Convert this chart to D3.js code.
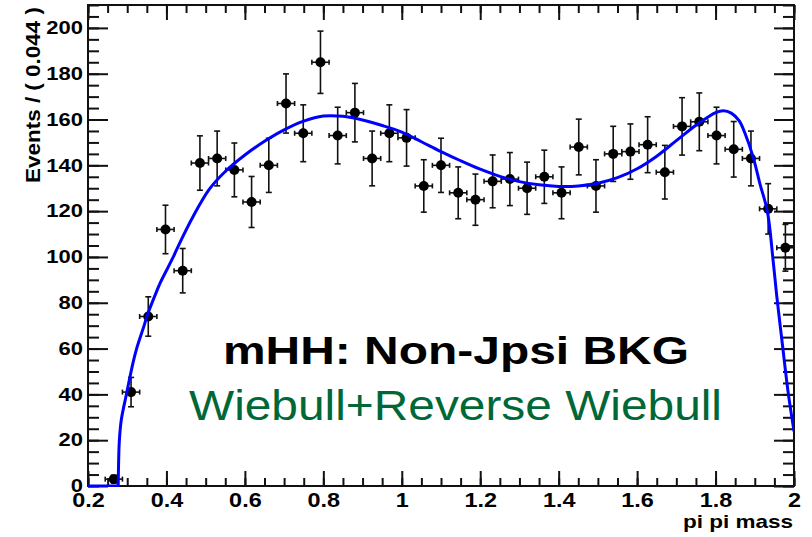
<!DOCTYPE html>
<html>
<head>
<meta charset="utf-8">
<script src="https://cdn.jsdelivr.net/npm/d3@7"></script>
<style>
  html, body { margin: 0; padding: 0; background: #fff; }
  svg { display: block; font-family: "Liberation Sans", Arial, Helvetica, sans-serif; }
</style>
</head>
<body>
<svg id="chart" width="812" height="537"></svg>
<script>
// pi pi invariant mass histogram: 41 bins over [0.2, 2.0]
const massRange = [0.2, 2.0];
const binCounts = [0, 3, 41, 74, 112, 94, 141, 143, 138, 124,
                   140, 167, 154, 185, 153, 163, 143, 154, 152, 131,
                   140, 128, 125, 133, 134, 130, 135, 128, 148, 131,
                   145, 146, 149, 137, 157, 159, 153, 147, 143, 121,
                   104];

// Fitted Weibull + reverse Weibull shape, sampled along the mass axis
const fitMass = [0.200, 0.277, 0.278, 0.280, 0.285, 0.2985, 0.315, 0.324, 0.343, 0.351,
                 0.375, 0.385, 0.4175, 0.428, 0.469, 0.509, 0.55, 0.60, 0.65, 0.70,
                 0.75, 0.80, 0.85, 0.90, 0.95, 1.00, 1.05, 1.10, 1.15, 1.20,
                 1.25, 1.30, 1.35, 1.40, 1.45, 1.50, 1.55, 1.60, 1.65, 1.70,
                 1.75, 1.78, 1.80, 1.82, 1.84, 1.86, 1.875, 1.896, 1.913, 1.932,
                 1.947, 1.956, 1.971, 1.985, 2.0];
const fitEvents = [0, 0, 10, 20, 29, 40.5, 54, 60, 70, 74.5,
                   85, 89, 100, 104, 118, 129.5, 137.3, 144.5, 150.5, 155.5,
                   159.3, 161.5, 161.4, 159.8, 157.4, 154.5, 150.3, 146, 142, 138.3,
                   135.2, 132.9, 131.5, 130.8, 131, 132.2, 134.6, 138.5, 144, 150.8,
                   157.5, 161, 163, 163.8, 162.8, 159.5, 154, 143.5, 132, 120,
                   98, 83, 61, 41, 24];
const fitThreshold = 0.277;   // the shape is zero below this mass

const xMajorTicks = [0.2, 0.4, 0.6, 0.8, 1, 1.2, 1.4, 1.6, 1.8, 2];
const yMajorTicks = [0, 20, 40, 60, 80, 100, 120, 140, 160, 180, 200];
const yDomain = [0, 210];

const xTitle = "pi pi mass";
const yTitle = "Events / ( 0.044 )";
const headline = "mHH: Non-Jpsi BKG";
const modelName = "Wiebull+Reverse Wiebull";

const frame = { left: 88, right: 794, top: 5, bottom: 486 };
const svg = d3.select("#chart");

const x = d3.scaleLinear().domain(massRange).range([frame.left, frame.right]);
const y = d3.scaleLinear().domain(yDomain).range([frame.bottom, frame.top]);

const nBins = binCounts.length;
const binWidth = (massRange[1] - massRange[0]) / nBins;

const xMinorTicks = d3.range(0, 37).map(i => +(massRange[0] + i * 0.05).toFixed(2));
const yMinorTicks = d3.range(0, 43).map(i => i * 5);

// widen glyphs to the chart's broad lettering
function widen(sel, factor) {
  sel.each(function () {
    const len = this.getComputedTextLength();
    this.setAttribute("textLength", len * factor);
    this.setAttribute("lengthAdjust", "spacingAndGlyphs");
  });
}

function styleAxis(g) {
  g.select(".domain").remove();
  g.attr("font-family", null).attr("font-size", null);
  g.selectAll(".tick line").attr("stroke", "#111").attr("stroke-width", 2);
}

// ---- axes: ticks on all four sides, pointing inward ----
const axes = svg.append("g");

axes.append("g").attr("transform", `translate(0,${frame.bottom})`)
  .call(d3.axisBottom(x).tickValues(xMinorTicks).tickSizeInner(-8).tickSizeOuter(0).tickFormat(""))
  .call(styleAxis);
const xAxisG = axes.append("g").attr("transform", `translate(0,${frame.bottom})`)
  .call(d3.axisBottom(x).tickValues(xMajorTicks).tickSizeInner(-15).tickSizeOuter(0)
        .tickPadding(7).tickFormat(d3.format("~g")))
  .call(styleAxis);
xAxisG.selectAll(".tick text")
  .attr("font-size", 19.5).attr("font-weight", "bold").attr("fill", "#000")
  .call(widen, 1.2);

axes.append("g").attr("transform", `translate(0,${frame.top})`)
  .call(d3.axisTop(x).tickValues(xMinorTicks).tickSizeInner(-8).tickSizeOuter(0).tickFormat(""))
  .call(styleAxis);
axes.append("g").attr("transform", `translate(0,${frame.top})`)
  .call(d3.axisTop(x).tickValues(xMajorTicks).tickSizeInner(-15).tickSizeOuter(0).tickFormat(""))
  .call(styleAxis);

axes.append("g").attr("transform", `translate(${frame.left},0)`)
  .call(d3.axisLeft(y).tickValues(yMinorTicks).tickSizeInner(-11).tickSizeOuter(0).tickFormat(""))
  .call(styleAxis);
const yAxisG = axes.append("g").attr("transform", `translate(${frame.left},0)`)
  .call(d3.axisLeft(y).tickValues(yMajorTicks).tickSizeInner(-20).tickSizeOuter(0).tickPadding(5))
  .call(styleAxis);
yAxisG.selectAll(".tick text")
  .attr("font-size", 18).attr("font-weight", "bold").attr("fill", "#000")
  .call(widen, 1.22);

axes.append("g").attr("transform", `translate(${frame.right},0)`)
  .call(d3.axisRight(y).tickValues(yMinorTicks).tickSizeInner(-11).tickSizeOuter(0).tickFormat(""))
  .call(styleAxis);
axes.append("g").attr("transform", `translate(${frame.right},0)`)
  .call(d3.axisRight(y).tickValues(yMajorTicks).tickSizeInner(-20).tickSizeOuter(0).tickFormat(""))
  .call(styleAxis);

// frame
svg.append("rect")
  .attr("x", frame.left).attr("y", frame.top)
  .attr("width", frame.right - frame.left).attr("height", frame.bottom - frame.top)
  .attr("fill", "none").attr("stroke", "#111").attr("stroke-width", 2);

// axis titles
svg.append("text")
  .attr("x", 793).attr("y", 528).attr("text-anchor", "end")
  .attr("font-size", 19).attr("font-weight", "bold").attr("fill", "#000")
  .text(xTitle)
  .attr("textLength", 110).attr("lengthAdjust", "spacingAndGlyphs");

svg.append("text")
  .attr("transform", "translate(39.5,7) rotate(-90)")
  .attr("text-anchor", "end")
  .attr("font-size", 21).attr("font-weight", "bold").attr("fill", "#000")
  .text(yTitle)
  .attr("textLength", 176).attr("lengthAdjust", "spacingAndGlyphs");

// ---- data points with Poisson error bars ----
const bins = binCounts.map((n, i) => ({
  lo: massRange[0] + i * binWidth,
  hi: massRange[0] + (i + 1) * binWidth,
  mid: massRange[0] + (i + 0.5) * binWidth,
  n: n,
  err: Math.sqrt(n)
})).filter(b => b.n > 0);

const pts = svg.append("g").attr("stroke", "#111").attr("stroke-width", 1.6);
const pt = pts.selectAll("g").data(bins).join("g");

pt.append("line")
  .attr("x1", d => x(d.mid)).attr("x2", d => x(d.mid))
  .attr("y1", d => y(d.n - d.err)).attr("y2", d => y(d.n + d.err));
pt.append("line")
  .attr("x1", d => x(d.mid) - 3).attr("x2", d => x(d.mid) + 3)
  .attr("y1", d => y(d.n + d.err)).attr("y2", d => y(d.n + d.err));
pt.append("line")
  .attr("x1", d => x(d.mid) - 3).attr("x2", d => x(d.mid) + 3)
  .attr("y1", d => y(d.n - d.err)).attr("y2", d => y(d.n - d.err));
pt.append("line")
  .attr("x1", d => x(d.lo)).attr("x2", d => x(d.hi))
  .attr("y1", d => y(d.n)).attr("y2", d => y(d.n));
pt.append("line")
  .attr("x1", d => x(d.lo)).attr("x2", d => x(d.lo))
  .attr("y1", d => y(d.n) - 2.5).attr("y2", d => y(d.n) + 2.5);
pt.append("line")
  .attr("x1", d => x(d.hi)).attr("x2", d => x(d.hi))
  .attr("y1", d => y(d.n) - 2.5).attr("y2", d => y(d.n) + 2.5);
pt.append("circle")
  .attr("cx", d => x(d.mid)).attr("cy", d => y(d.n)).attr("r", 5)
  .attr("fill", "#000").attr("stroke", "none");

// ---- fit curve: flat below threshold, smooth spline above ----
svg.append("clipPath").attr("id", "plotClip")
  .append("rect")
  .attr("x", frame.left).attr("y", frame.top)
  .attr("width", frame.right - frame.left).attr("height", frame.bottom - frame.top + 1);

const fitPoints = fitMass.map((m, i) => [m, fitEvents[i]]);
const flatPart = fitPoints.filter(p => p[0] <= fitThreshold);
const risingPart = fitPoints.filter(p => p[0] >= fitThreshold);

const fitLine = d3.line()
  .x(p => x(p[0]))
  .y(p => y(p[1]));

const curveG = svg.append("g")
  .attr("clip-path", "url(#plotClip)")
  .attr("fill", "none").attr("stroke", "#0000ff").attr("stroke-width", 3)
  .attr("stroke-linejoin", "round").attr("stroke-linecap", "round");

curveG.append("path").attr("d", fitLine.curve(d3.curveLinear)(flatPart));
curveG.append("path").attr("d", fitLine.curve(d3.curveCatmullRom.alpha(0.5))(risingPart));

// ---- annotations ----
svg.append("text")
  .attr("x", 223).attr("y", 363.5)
  .attr("font-size", 39).attr("font-weight", "bold").attr("fill", "#000")
  .text(headline)
  .attr("textLength", 466).attr("lengthAdjust", "spacingAndGlyphs");

svg.append("text")
  .attr("x", 189).attr("y", 420)
  .attr("font-size", 43).attr("fill", "#006837")
  .text(modelName)
  .attr("textLength", 533).attr("lengthAdjust", "spacingAndGlyphs");
</script>
</body>
</html>
